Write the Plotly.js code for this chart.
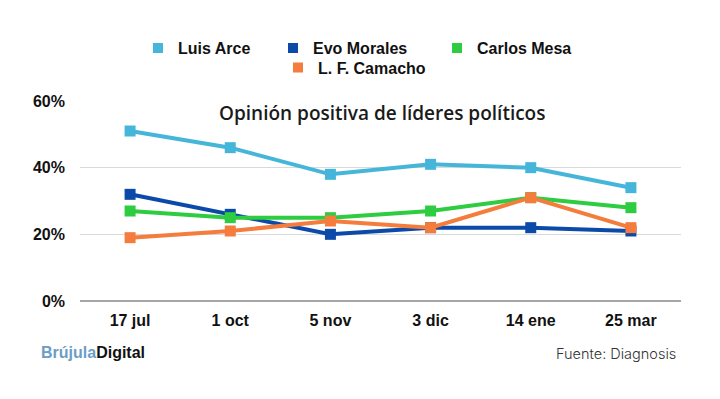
<!DOCTYPE html>
<html><head><meta charset="utf-8">
<script src="https://cdn.plot.ly/plotly-3.0.1.min.js"></script>
<style>html,body{margin:0;padding:0;background:#fff}#c{width:720px;height:399px}</style>
</head><body><div id="c"></div>
<script>
const categories = ['17 jul','1 oct','5 nov','3 dic','14 ene','25 mar'];
const luisArce = [51,46,38,41,40,34];
const evoMorales = [32,26,20,22,22,21];
const carlosMesa = [27,25,25,27,31,28];
const camacho = [19,21,24,22,31,22];
const names = ['Luis Arce','Evo Morales','Carlos Mesa','L. F. Camacho'];
const colors = ['#45b6d9','#0b4aa8','#2ecc40','#f47c3c'];
const series = [luisArce, evoMorales, carlosMesa, camacho];
const legendIds = ['legend','legend2','legend3','legend4'];
const traces = series.map((s,i)=>({
  x: categories, y: s, name: names[i], type:'scatter', mode:'lines+markers',
  line:{color:colors[i], width:4}, marker:{symbol:'square', size:11, color:colors[i]},
  showlegend:false
}));
// legend-only entries (square swatches)
names.forEach((n,i)=>traces.push({
  x:[null], y:[null], name:n, type:'scatter', mode:'markers',
  marker:{symbol:'square', size:10, color:colors[i]}, legend: legendIds[i], showlegend:true
}));
const legFont = {family:'Liberation Sans, Arial, sans-serif', size:16, color:'#111', weight:'bold'};
const legPos = [[138,0.922],[273,0.922],[437,0.922],[278,0.873]];
const layout = {
  width:720, height:399,
  margin:{l:80, r:39, t:101, b:98},
  paper_bgcolor:'#fff', plot_bgcolor:'#fff',
  showlegend:true,
  xaxis:{type:'category', range:[-0.5,5.5], showgrid:false, zeroline:false, showline:false,
    tickfont:{family:'Liberation Sans, Arial, sans-serif', size:16, color:'#111', weight:'bold'}, ticks:'', ticklabelstandoff:8},
  yaxis:{range:[0,60], dtick:20, ticksuffix:'%', showgrid:true, gridcolor:'#d9d9d9', gridwidth:1,
    zeroline:true, zerolinecolor:'#a6a6a6', zerolinewidth:1.5, showline:false,
    tickfont:{family:'Liberation Sans, Arial, sans-serif', size:16, color:'#111', weight:'bold'}, ticks:'', ticklabelstandoff:14},
  annotations:[
    {text:'Opinión positiva de líderes políticos', xref:'paper', yref:'paper', x:0.503, y:0.94, xanchor:'center', yanchor:'middle', showarrow:false,
     font:{family:'Open Sans, sans-serif', size:19, color:'#1a1a1a', weight:600}},
    {text:'<span style="color:#6b9dc6">Brújula</span>Digital', xref:'paper', yref:'paper', x:-0.068, y:-0.255, xanchor:'left', yanchor:'middle', showarrow:false,
     font:{family:'Liberation Sans, Arial, sans-serif', size:16, color:'#111', weight:'bold'}},
    {text:'Fuente: Diagnosis', xref:'paper', yref:'paper', x:0.995, y:-0.26, xanchor:'right', yanchor:'middle', showarrow:false,
     font:{family:'Inter, sans-serif', size:14.5, color:'#333', weight:300}}
  ]
};
legendIds.forEach((id,i)=>{
  layout[id] = {orientation:'h', x:legPos[i][0]/720, xref:'container', xanchor:'left', y:legPos[i][1], yref:'container', yanchor:'top',
    font:legFont, itemwidth:30, bgcolor:'rgba(0,0,0,0)'};
});
Plotly.newPlot('c', traces, layout, {displayModeBar:false, staticPlot:true});
</script></body></html>
